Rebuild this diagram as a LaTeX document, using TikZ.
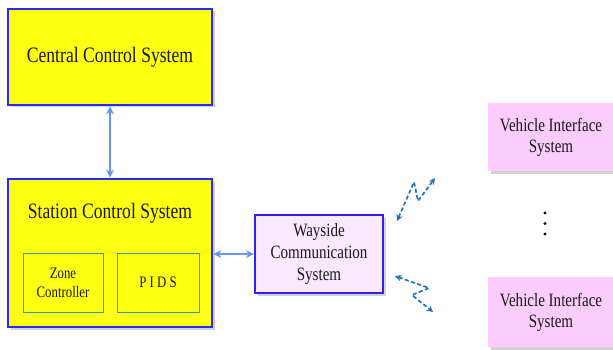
\documentclass[tikz,border=0pt]{standalone}
\usepackage{fontspec}
\setmainfont{Liberation Serif}[FakeStretch=0.8]
\usetikzlibrary{arrows.meta,shadows}
\definecolor{ylw}{RGB}{255,255,20}
\definecolor{bordblue}{RGB}{40,40,250}
\definecolor{arrblue}{RGB}{100,150,250}
\definecolor{teal2}{RGB}{50,150,200}
\definecolor{lav}{RGB}{250,232,255}
\definecolor{pinkv}{RGB}{252,204,252}
\definecolor{zigblue}{RGB}{30,115,195}
\definecolor{txt}{RGB}{25,25,25}
\tikzset{
  shad/.style={drop shadow={opacity=0.35,shadow xshift=2.5pt,shadow yshift=-2.5pt}},
  bigbox/.style={shad,draw=bordblue,line width=2.8pt,fill=ylw,inner sep=0pt},
  inbox/.style={draw=teal2,line width=1pt,inner sep=0pt,align=center,text=txt,font=\fontsize{16}{19}\selectfont},
  wbox/.style={shad,draw=bordblue!85!violet,line width=2.2pt,fill=lav,inner sep=0pt,align=center,text=txt,font=\fontsize{18.8}{22}\selectfont},
  vbox/.style={shad,fill=pinkv,inner sep=0pt,align=center,text=txt,font=\fontsize{18.8}{21}\selectfont},
  dblarrow/.style={arrblue,line width=2.2pt,{Stealth[length=8pt,width=8pt]}-{Stealth[length=8pt,width=8pt]}},
  zig/.style={zigblue,line width=1.7pt,dash pattern=on 4pt off 2.5pt,{Stealth[length=6.5pt,width=6.5pt]}-{Stealth[length=6.5pt,width=6.5pt]}},
  dotc/.style={circle,fill=black,inner sep=0pt,minimum size=3.4pt},
}
\begin{document}
\begin{tikzpicture}[x=1pt,y=-1pt]
\useasboundingbox (0,0) rectangle (613,350);
\node[bigbox,minimum width=204pt,minimum height=96pt,text=txt,font=\fontsize{22}{26}\selectfont] (cc) at (110,57) {Central Control System};
\node[bigbox,minimum width=204pt,minimum height=148pt] (sc) at (110,253) {};
\node[text=txt,font=\fontsize{22}{26}\selectfont,inner sep=0pt] (sct) at (110,213) {Station Control System};
\node[inbox,minimum width=80pt,minimum height=59pt] (zc) at (63,282.5) {Zone\\Controller};
\node[inbox,minimum width=82pt,minimum height=59pt] (pids) at (158,282.5) {P I D S};
\node[wbox,minimum width=128pt,minimum height=78pt] (wc) at (319,254) {Wayside\\Communication\\System};
\node[vbox,minimum width=126pt,minimum height=68pt] (v1) at (551,137) {Vehicle Interface\\System};
\node[vbox,minimum width=126pt,minimum height=70pt] (v2) at (551,312) {Vehicle Interface\\System};
\node[dotc] (d1) at (545,213) {};
\node[dotc] (d2) at (545,223.5) {};
\node[dotc] (d3) at (545,234) {};
\draw[dblarrow] (cc.south) -- (sc.north);
\draw[dblarrow] (sc.east |- wc.west) -- (wc.west);
\coordinate (u1) at (397,221);
\coordinate (u2) at (414,182);
\coordinate (u3) at (418,201);
\coordinate (u4) at (435,178);
\coordinate (l1) at (395,276);
\coordinate (l2) at (429,288);
\coordinate (l3) at (412,295);
\coordinate (l4) at (433,312);
\draw[zig] (u1) -- (u2) -- (u3) -- (u4);
\draw[zig] (l1) -- (l2) -- (l3) -- (l4);
\end{tikzpicture}
\end{document}
